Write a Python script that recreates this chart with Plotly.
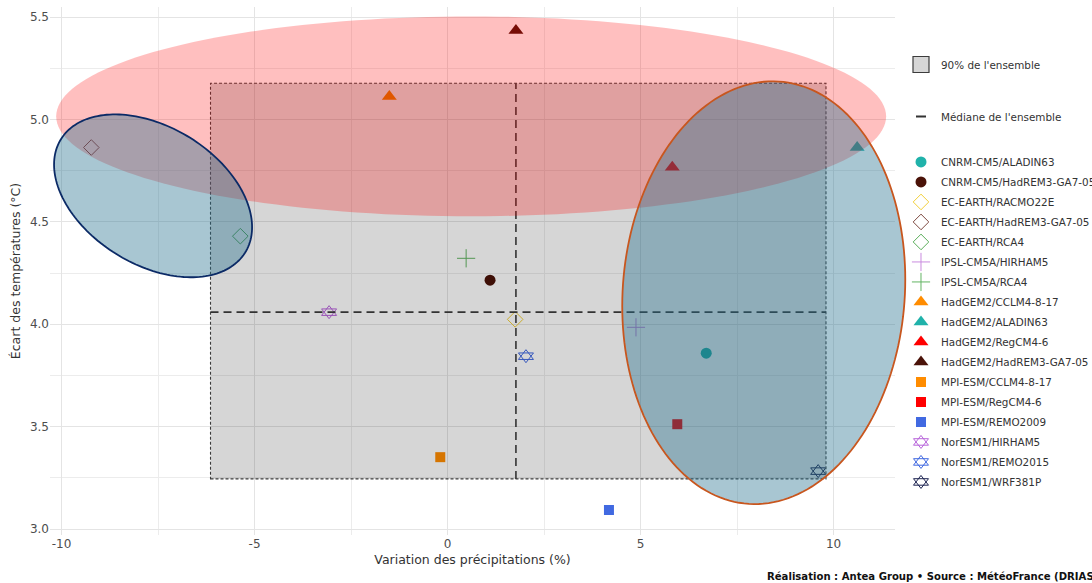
import numpy as np
import plotly.graph_objects as go

# ---------------- data ----------------
models = [
    "CNRM-CM5/ALADIN63", "CNRM-CM5/HadREM3-GA7-05", "EC-EARTH/RACMO22E",
    "EC-EARTH/HadREM3-GA7-05", "EC-EARTH/RCA4", "IPSL-CM5A/HIRHAM5",
    "IPSL-CM5A/RCA4", "HadGEM2/CCLM4-8-17", "HadGEM2/ALADIN63",
    "HadGEM2/RegCM4-6", "HadGEM2/HadREM3-GA7-05", "MPI-ESM/CCLM4-8-17",
    "MPI-ESM/RegCM4-6", "MPI-ESM/REMO2009", "NorESM1/HIRHAM5",
    "NorESM1/REMO2015", "NorESM1/WRF381P",
]
precip = [6.70, 1.10, 1.75, -9.23, -5.37, 4.88, 0.48, -1.51, 10.61,
          5.82, 1.77, -0.19, 5.95, 4.18, -3.07, 2.03, 9.60]
temp = [3.859, 4.215, 4.024, 4.863, 4.430, 3.985, 4.322, 5.112, 4.863,
        4.766, 5.434, 3.351, 3.512, 3.093, 4.059, 3.844, 3.283]

x_ticks = [-10, -5, 0, 5, 10]
x_tick_labels = ["-10", "-5", "0", "5", "10"]
x_minor = [-7.5, -2.5, 2.5, 7.5]
y_ticks = [3.0, 3.5, 4.0, 4.5, 5.0, 5.5]
y_tick_labels = ["3.0", "3.5", "4.0", "4.5", "5.0", "5.5"]
y_minor = [3.25, 3.75, 4.25, 4.75, 5.25]

# ellipses: centre x, centre y, half-extent x, half-extent y, correlation
ell_red = (0.61, 5.015, 10.75, 0.488, 0.0)
ell_left = (-7.63, 4.627, 2.565, 0.3976, -0.384)
ell_right = (8.19, 4.154, 3.666, 1.032, 0.063)

# ---------------- styles ----------------
styles = {
    "CNRM-CM5/ALADIN63": ("circle", "#20B2AA", 11),
    "CNRM-CM5/HadREM3-GA7-05": ("circle", "#4A1208", 11),
    "EC-EARTH/RACMO22E": ("diamond-open", "#F2CF3A", 12),
    "EC-EARTH/HadREM3-GA7-05": ("diamond-open", "#7E4A42", 12),
    "EC-EARTH/RCA4": ("diamond-open", "#5AAE5A", 12),
    "IPSL-CM5A/HIRHAM5": ("cross-thin", "#C98BDF", 13),
    "IPSL-CM5A/RCA4": ("cross-thin", "#63B463", 13),
    "HadGEM2/CCLM4-8-17": ("triangle-up", "#FF8C00", 13),
    "HadGEM2/ALADIN63": ("triangle-up", "#20B2AA", 13),
    "HadGEM2/RegCM4-6": ("triangle-up", "#FF0000", 13),
    "HadGEM2/HadREM3-GA7-05": ("triangle-up", "#4A1208", 13),
    "MPI-ESM/CCLM4-8-17": ("square", "#FF8C00", 10),
    "MPI-ESM/RegCM4-6": ("square", "#FF0000", 10),
    "MPI-ESM/REMO2009": ("square", "#4169E1", 10),
    "NorESM1/HIRHAM5": ("david", "#B865DB", 13),
    "NorESM1/REMO2015": ("david", "#4169E1", 13),
    "NorESM1/WRF381P": ("david", "#1E2452", 13),
}

XR = [-10.3, 11.59]
YR = [2.971, 5.549]

fig = go.Figure()

for m, xv, yv in zip(models, precip, temp):
    sym, col, size = styles[m]
    if sym == "david":
        sym = "triangle-up-open"
    is_open = sym.endswith("open") or sym.startswith("cross-thin")
    marker = dict(symbol=sym, size=size, color=col,
                  line=dict(color=col, width=1 if is_open else 0))
    fig.add_trace(go.Scatter(
        x=[xv], y=[yv], mode="markers", name=m, marker=marker,
        legend="legend3", legendgroup=m, cliponaxis=False, showlegend=True,
    ))

# second triangle of the star of David markers (plot + overlaid legend)
david = [(m, xv, yv) for m, xv, yv in zip(models, precip, temp)
         if styles[m][0] == "david"]
for m, xv, yv in david:
    _, col, size = styles[m]
    fig.add_trace(go.Scatter(
        x=[xv], y=[yv], mode="markers", name=" ",
        marker=dict(symbol="triangle-down-open", size=size, color=col,
                    line=dict(color=col, width=1)),
        legend="legend4", legendgroup=m + "_down", cliponaxis=False,
        showlegend=True,
    ))

# ensemble statistics
xs = np.array(precip)
ys = np.array(temp)
qx05, qx95 = np.quantile(xs, [0.05, 0.95])
qy05, qy95 = np.quantile(ys, [0.05, 0.95])
mx, my = np.median(xs), np.median(ys)

# legend-only entries
fig.add_trace(go.Scatter(
    x=[None], y=[None], mode="markers", name="90% de l'ensemble",
    marker=dict(symbol="square", size=17, color="#d6d6d6",
                line=dict(color="#3c3c3c", width=1.2)),
    legend="legend", showlegend=True,
))
fig.add_trace(go.Scatter(
    x=[None], y=[None], mode="lines", name="Médiane de l'ensemble",
    line=dict(color="#333333", width=1.8, dash="0px,10px,10px,6px"),
    legend="legend2", showlegend=True,
))

shapes = []
shapes.append(dict(
    type="rect", xref="x", yref="y", x0=qx05, x1=qx95, y0=qy05, y1=qy95,
    fillcolor="rgba(0,0,0,0.16)",
    line=dict(color="#3c3c3c", width=1.1, dash="3px,2px"),
    layer="above",
))
shapes.append(dict(
    type="line", xref="x", yref="y", x0=mx, x1=mx, y0=qy05, y1=qy95,
    line=dict(color="#333333", width=1.6, dash="8px,5px"), layer="above",
))
shapes.append(dict(
    type="line", xref="x", yref="y", x0=qx05, x1=qx95, y0=my, y1=my,
    line=dict(color="#333333", width=1.6, dash="8px,5px"), layer="above",
))


def ellipse_path(params):
    cx, cy, hx, hy, rho = params
    t = np.linspace(0, 2 * np.pi, 181)
    ex = cx + hx * np.cos(t)
    ey = cy + hy * (rho * np.cos(t) + np.sqrt(1 - rho ** 2) * np.sin(t))
    # axis-domain fractions (domain refs are not clipped, like the original)
    fx = (ex - XR[0]) / (XR[1] - XR[0])
    fy = (ey - YR[0]) / (YR[1] - YR[0])
    pts = [f"{a:.5f},{b:.5f}" for a, b in zip(fx, fy)]
    return "M" + " L".join(pts) + " Z"


shapes.append(dict(type="path", xref="x domain", yref="y domain",
                   path=ellipse_path(ell_red), fillcolor="rgba(255,0,0,0.25)",
                   line=dict(width=0), layer="above"))
shapes.append(dict(type="path", xref="x domain", yref="y domain",
                   path=ellipse_path(ell_left), fillcolor="rgba(37,112,142,0.4)",
                   line=dict(color="#0B2A66", width=1.8), layer="above"))
shapes.append(dict(type="path", xref="x domain", yref="y domain",
                   path=ellipse_path(ell_right), fillcolor="rgba(37,112,142,0.4)",
                   line=dict(color="#C8561E", width=1.8), layer="above"))

fig.update_layout(shapes=shapes)

axis_font = dict(family="DejaVu Sans", size=12, color="#4d4d4d")
title_font = dict(family="DejaVu Sans", size=12.5, color="#333333")
fig.update_xaxes(
    range=XR, tickmode="array", tickvals=x_ticks, ticktext=x_tick_labels,
    showgrid=True, gridcolor="#e4e4e4", gridwidth=1, zeroline=False,
    showline=False, ticks="", tickfont=axis_font, automargin=False,
    minor=dict(tickmode="array", tickvals=x_minor, showgrid=True,
               gridcolor="#ececec", gridwidth=0.7, ticks=""),
    title=dict(text="Variation des précipitations (%)", standoff=5,
               font=title_font),
)
fig.update_yaxes(
    range=YR, tickmode="array", tickvals=y_ticks, ticktext=y_tick_labels,
    showgrid=True, gridcolor="#e4e4e4", gridwidth=1, zeroline=False,
    showline=False, ticks="", tickfont=axis_font, automargin=False,
    minor=dict(tickmode="array", tickvals=y_minor, showgrid=True,
               gridcolor="#ececec", gridwidth=0.7, ticks=""),
    title=dict(text="Écart des températures (°C)", standoff=6,
               font=title_font),
)

leg_font = dict(family="DejaVu Sans", size=10.4, color="#333333")
L3_Y = 0.734
ROW = 20.0 / 528
LX = 1.0071
fig.update_layout(
    width=1092, height=583,
    margin=dict(l=50, r=197, t=7, b=48, autoexpand=False),
    paper_bgcolor="white", plot_bgcolor="white",
    font=dict(family="DejaVu Sans"),
    showlegend=True,
    legend=dict(x=LX, y=0.9186, xanchor="left", yanchor="top",
                font=leg_font, bgcolor="rgba(0,0,0,0)"),
    legend2=dict(x=LX, y=0.8201, xanchor="left", yanchor="top",
                 font=leg_font, bgcolor="rgba(0,0,0,0)"),
    legend3=dict(x=LX, y=L3_Y, xanchor="left", yanchor="top",
                 font=leg_font, bgcolor="rgba(0,0,0,0)", tracegroupgap=1),
    legend4=dict(x=LX, y=L3_Y - 14 * ROW, xanchor="left", yanchor="top",
                 font=leg_font, bgcolor="rgba(0,0,0,0)", tracegroupgap=1),
    annotations=[dict(
        text="<b>Réalisation : Antea Group • Source : MétéoFrance (DRIAS)</b>",
        xref="paper", yref="paper", x=0.846, y=-0.0795,
        xanchor="left", yanchor="middle", showarrow=False,
        font=dict(family="DejaVu Sans", size=10.1, color="#111111"),
    )],
)

fig.write_html(
    "out.html",
    config={"displayModeBar": False},
    post_script="document.body.style.margin='0';document.body.style.overflow='hidden';",
)
